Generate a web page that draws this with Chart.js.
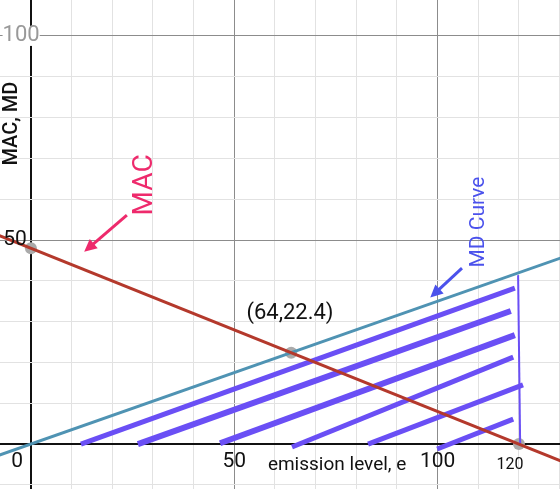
<!DOCTYPE html>
<html>
<head>
<meta charset="utf-8">
<script src="https://cdn.jsdelivr.net/npm/chart.js@4.4.1/dist/chart.umd.min.js"></script>
<style>
  html, body { margin: 0; padding: 0; background: #fff; }
  #wrap { width: 560px; height: 489px; }
</style>
</head>
<body>
<div id="wrap"><canvas id="myChart"></canvas></div>
<script>
// axis window
const xMin = -7.6, xMax = 130.1;
const yMin = -11, yMax = 108.8;
const gridTicks = [-10, 0, 10, 20, 30, 40, 50, 60, 70, 80, 90, 100, 110, 120, 130];

// curves (endpoints of straight lines)
const macLine = [{ x: -8, y: 51.2 }, { x: 131, y: -4.4 }];
const mdLine = [{ x: -8, y: -2.8 }, { x: 131, y: 45.85 }];
const keyPoints = [{ x: 0, y: 48 }, { x: 64, y: 22.4 }, { x: 120, y: 0 }];

// hand drawn hatch strokes
const hatchStarts = [[12.3, 0], [26.3, 0], [46.5, 0.2], [64.2, -0.7], [82.9, 0], [99.9, -1.2]];
const hatchEnds = [[119, 38.2], [118, 32.6], [119, 26.7], [118.6, 21.3], [121, 14.5], [118.6, 6.1]];
const hatchWidths = [5, 6, 6, 5, 5, 5];
const closeLine = [{ x: 119.8, y: 41.4 }, { x: 120.3, y: 0 }];

// labels
const xTickLabels = [{ v: 50, t: "50" }, { v: 100, t: "100" }];

const hatchColor = "#6a4ff5";

let datasets = [
  { data: macLine, borderColor: "#b4392c", borderWidth: 3, showLine: true, pointRadius: 0 },
  { data: mdLine, borderColor: "#4f93b3", borderWidth: 3, showLine: true, pointRadius: 0 },
];
hatchStarts.forEach((s, i) => {
  datasets.push({
    data: [{ x: s[0], y: s[1] }, { x: hatchEnds[i][0], y: hatchEnds[i][1] }],
    borderColor: hatchColor, borderWidth: hatchWidths[i], showLine: true, pointRadius: 0,
  });
});
datasets.push({ data: closeLine, borderColor: hatchColor, borderWidth: 2, showLine: true, pointRadius: 0 });
datasets.push({ data: keyPoints, showLine: false, pointRadius: 6, backgroundColor: "#aaaaaa", borderWidth: 0 });

const gridColor = (c) => {
  let v = c.tick.value;
  if (v === 0) return "#111";
  if (v % 50 === 0) return "#8c8c8c";
  return "#e2e2e2";
};
const gridWidth = (c) => (c.tick.value === 0 ? 2 : 1);

const arrow = (ctx, x1, y1, x2, y2, color) => {
  let a = Math.atan2(y2 - y1, x2 - x1);
  ctx.strokeStyle = color;
  ctx.fillStyle = color;
  ctx.lineWidth = 3;
  ctx.beginPath();
  ctx.moveTo(x1, y1);
  ctx.lineTo(x2 - 8 * Math.cos(a), y2 - 8 * Math.sin(a));
  ctx.stroke();
  ctx.beginPath();
  ctx.moveTo(x2, y2);
  ctx.lineTo(x2 - 14 * Math.cos(a - 0.45), y2 - 14 * Math.sin(a - 0.45));
  ctx.lineTo(x2 - 14 * Math.cos(a + 0.45), y2 - 14 * Math.sin(a + 0.45));
  ctx.closePath();
  ctx.fill();
};

const labelsPlugin = {
  id: "labels",
  afterDraw(chart) {
    const ctx = chart.ctx;
    const xs = chart.scales.x, ys = chart.scales.y;
    const px = (v) => xs.getPixelForValue(v);
    const py = (v) => ys.getPixelForValue(v);
    ctx.save();
    ctx.textAlign = "center";
    ctx.textBaseline = "middle";

    // x tick labels
    ctx.fillStyle = "#111";
    ctx.font = "21px Roboto";
    ctx.fillText("0", px(-3.4), py(-4.4));
    xTickLabels.forEach((l) => ctx.fillText(l.t, px(l.v), py(-4.4)));
    ctx.font = "16px Roboto";
    ctx.fillText("120", px(117.8), py(-5.1));

    // y tick labels
    ctx.font = "21px Roboto";
    ctx.fillText("50", px(-3.9), py(50));
    ctx.font = "22px Roboto";
    let w = ctx.measureText("100").width;
    ctx.fillStyle = "#fff";
    ctx.fillRect(px(-2.4) - w / 2, py(100) - 10, w, 20);
    ctx.fillStyle = "#999";
    ctx.fillText("100", px(-2.4), py(100));

    // axis titles
    ctx.fillStyle = "#111";
    ctx.font = "19px Roboto";
    ctx.fillText("emission level, e", px(75.3), py(-5.3));
    ctx.save();
    ctx.translate(px(-4.6), py(78.5));
    ctx.rotate(-Math.PI / 2);
    ctx.font = "500 20px Roboto";
    ctx.fillText("MAC, MD", 0, 0);
    ctx.restore();

    // point label
    ctx.font = "22px Roboto";
    ctx.fillText("(64,22.4)", px(63.7), py(32.1));

    // MAC annotation
    ctx.save();
    ctx.translate(px(28), py(63.5));
    ctx.rotate(-Math.PI / 2);
    ctx.fillStyle = "#ee2a6c";
    ctx.font = "28px Roboto";
    ctx.fillText("MAC", 0, 0);
    ctx.restore();
    arrow(ctx, px(23.6), py(56.1), px(13.1), py(47.1), "#ee2a6c");

    // MD annotation
    ctx.save();
    ctx.translate(px(110), py(54.4));
    ctx.rotate(-Math.PI / 2);
    ctx.fillStyle = "#4b52ec";
    ctx.font = "21px Roboto";
    ctx.fillText("MD Curve", 0, 0);
    ctx.restore();
    arrow(ctx, px(106), py(43.1), px(98.2), py(35.9), "#4b52ec");

    ctx.restore();
  },
};

new Chart("myChart", {
  type: "scatter",
  data: { datasets: datasets },
  options: {
    responsive: true,
    maintainAspectRatio: false,
    animation: false,
    layout: { padding: 0, autoPadding: false },
    plugins: { legend: { display: false }, tooltip: { enabled: false } },
    scales: {
      x: {
        type: "linear", min: xMin, max: xMax,
        afterBuildTicks: (s) => { s.ticks = gridTicks.map((v) => ({ value: v })); },
        afterFit: (s) => { s.height = 0; },
        ticks: { display: false },
        grid: { color: gridColor, lineWidth: gridWidth, drawTicks: false },
        border: { display: false },
      },
      y: {
        type: "linear", min: yMin, max: yMax,
        afterBuildTicks: (s) => { s.ticks = gridTicks.map((v) => ({ value: v })); },
        afterFit: (s) => { s.width = 0; },
        ticks: { display: false },
        grid: { color: gridColor, lineWidth: gridWidth, drawTicks: false },
        border: { display: false },
      },
    },
  },
  plugins: [labelsPlugin],
});
</script>
</body>
</html>
